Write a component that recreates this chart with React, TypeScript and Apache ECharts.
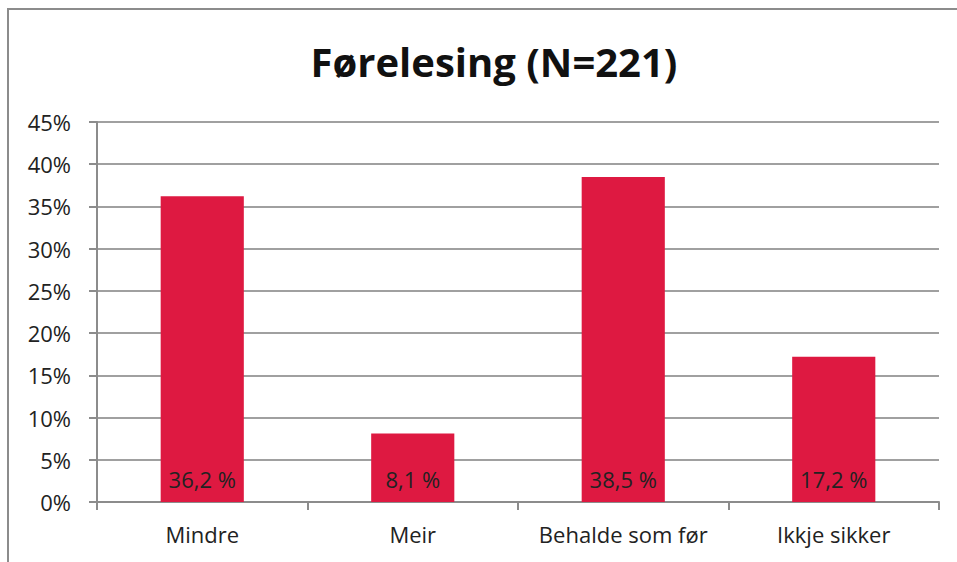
import React, { useEffect, useRef } from "react";
import * as echarts from "echarts";

const title = "Førelesing (N=221)";
const categories = ["Mindre", "Meir", "Behalde som før", "Ikkje sikker"];
const values = [36.2, 8.1, 38.5, 17.2];
const valueLabels = ["36,2 %", "8,1 %", "38,5 %", "17,2 %"];
const yMax = 45;
const yStep = 5;

export default function App() {
  const ref = useRef<HTMLDivElement>(null);
  useEffect(() => {
    if (!ref.current) return;
    const chart = echarts.init(ref.current, null, { renderer: "svg" });
    const font = "'Open Sans', 'Noto Sans', sans-serif";
    chart.setOption({
      animation: false,
      backgroundColor: "#ffffff",
      title: {
        text: title,
        left: 489,
        textAlign: "center",
        top: 36,
        textStyle: { fontFamily: font, fontSize: 40, fontWeight: "bold", color: "#111" },
      },
      graphic: [
        {
          type: "rect",
          shape: { x: 8, y: 9, width: 1200, height: 1000 },
          style: { fill: "none", stroke: "#8c8c8c", lineWidth: 2 },
          silent: true,
        },
      ],
      grid: { left: 97, right: 18, top: 122, bottom: 60 },
      xAxis: {
        type: "category",
        data: categories,
        axisLine: { lineStyle: { color: "#8c8c8c", width: 2 } },
        axisTick: { show: true, length: 8, lineStyle: { color: "#8c8c8c", width: 2 } },
        axisLabel: { interval: 0, fontFamily: font, fontSize: 22, color: "#222", margin: 21, hideOverlap: false },
      },
      yAxis: {
        type: "value",
        min: 0,
        max: yMax,
        interval: yStep,
        axisLine: { show: true, lineStyle: { color: "#8c8c8c", width: 2 } },
        axisTick: { show: true, length: 8, lineStyle: { color: "#8c8c8c", width: 2 } },
        splitLine: { show: true, lineStyle: { color: "#a0a0a0", width: 2 } },
        axisLabel: {
          fontFamily: font,
          fontSize: 22,
          color: "#222",
          margin: 26,
          formatter: (v: number) => `${v}%`,
        },
      },
      series: [
        {
          type: "bar",
          data: values,
          barWidth: "39.5%",
          itemStyle: { color: "#DE1941" },
          label: {
            show: true,
            position: "insideBottom",
            distance: 12,
            fontFamily: font,
            fontSize: 22,
            color: "#222",
            formatter: (p: any) => valueLabels[p.dataIndex],
          },
        },
      ],
    });
    return () => chart.dispose();
  }, []);
  return (
    <div
      ref={ref}
      style={{ position: "fixed", left: 0, top: 0, width: 957, height: 562 }}
    />
  );
}
